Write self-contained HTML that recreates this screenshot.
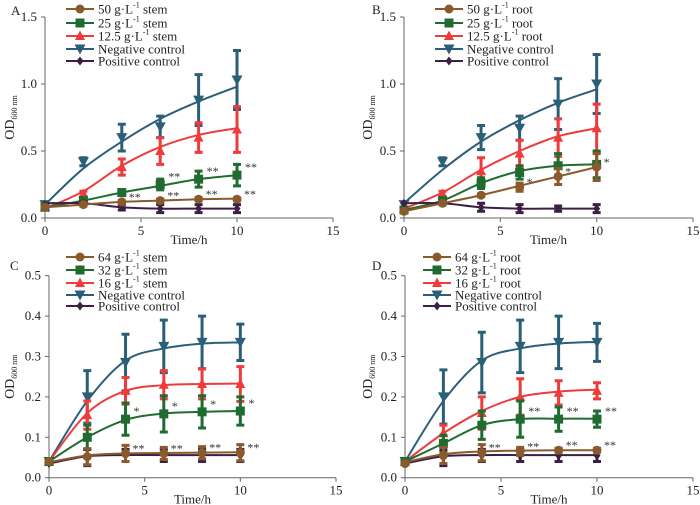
<!DOCTYPE html>
<html><head><meta charset="utf-8">
<style>
body{margin:0;background:#fff;}
svg{display:block;font-family:"Liberation Serif",serif;}
</style></head>
<body>
<svg id="chart" width="700" height="505" viewBox="0 0 700 505"></svg>
<script>
const timeH=[0,2,4,6,8,10];
const xTicks=[0,5,10,15];
const yTicksAB=[0,0.5,1.0,1.5];
const yTicksCD=[0,0.1,0.2,0.3,0.4,0.5];
// Panel A
const aNeg=[0.1,0.42,0.6,0.68,0.88,1.03], aNegErr=[0,0.03,0.1,0.08,0.19,0.22], aNegFit=[0.1,0.37,0.57,0.74,0.87,0.98];
const aRed=[0.08,0.18,0.38,0.5,0.6,0.66], aRedErr=[0,0.02,0.06,0.1,0.11,0.17], aRedFit=[0.07,0.2,0.39,0.53,0.62,0.67];
const aGrn=[0.08,0.13,0.19,0.25,0.29,0.32], aGrnErr=[0,0.01,0.02,0.04,0.06,0.08], aGrnFit=[0.08,0.13,0.19,0.24,0.29,0.32];
const aBrn=[0.08,0.1,0.12,0.13,0.14,0.14], aBrnErr=[0,0.01,0.01,0.01,0.01,0.01], aBrnFit=[0.08,0.1,0.12,0.13,0.14,0.145];
const aPos=[0.1,0.11,0.08,0.07,0.07,0.07], aPosErr=[0,0.01,0.02,0.03,0.03,0.03], aPosFit=[0.11,0.11,0.08,0.07,0.07,0.07];
// Panel B
const bNeg=[0.1,0.42,0.6,0.67,0.85,1.0], bNegErr=[0,0.03,0.09,0.09,0.19,0.22], bNegFit=[0.11,0.36,0.57,0.73,0.86,0.96];
const bRed=[0.07,0.18,0.35,0.48,0.6,0.67], bRedErr=[0,0.02,0.1,0.1,0.14,0.18], bRedFit=[0.07,0.19,0.36,0.5,0.61,0.67];
const bGrn=[0.06,0.13,0.26,0.34,0.39,0.4], bGrnErr=[0,0.01,0.04,0.05,0.09,0.1], bGrnFit=[0.06,0.13,0.26,0.35,0.39,0.4];
const bBrn=[0.05,0.11,0.17,0.23,0.31,0.38], bBrnErr=[0,0.01,0.01,0.03,0.06,0.1], bBrnFit=[0.05,0.11,0.17,0.24,0.31,0.38];
const bPos=[0.11,0.11,0.08,0.07,0.07,0.07], bPosErr=[0,0.01,0.03,0.03,0.02,0.03], bPosFit=[0.11,0.11,0.08,0.07,0.07,0.07];
// Panel C
const cNeg=[0.04,0.2,0.285,0.325,0.335,0.335], cNegErr=[0,0.065,0.07,0.065,0.065,0.045], cNegFit=[0.04,0.19,0.29,0.32,0.332,0.335];
const cRed=[0.04,0.155,0.215,0.23,0.232,0.232], cRedErr=[0,0.035,0.033,0.035,0.037,0.043], cRedFit=[0.04,0.16,0.215,0.229,0.232,0.233];
const cGrn=[0.04,0.1,0.145,0.158,0.163,0.165], cGrnErr=[0,0.03,0.04,0.045,0.04,0.035], cGrnFit=[0.04,0.1,0.143,0.159,0.163,0.165];
const cBrn=[0.04,0.052,0.06,0.06,0.062,0.062], cBrnErr=[0,0.02,0.02,0.015,0.015,0.02], cBrnFit=[0.038,0.055,0.06,0.061,0.062,0.063];
const cPos=[0.035,0.05,0.055,0.055,0.055,0.055], cPosErr=[0,0.02,0.015,0.015,0.015,0.015], cPosFit=[0.035,0.053,0.056,0.056,0.056,0.056];
// Panel D
const dNeg=[0.04,0.2,0.285,0.325,0.335,0.335], dNegErr=[0,0.067,0.075,0.065,0.065,0.047], dNegFit=[0.04,0.19,0.29,0.32,0.332,0.336];
const dRed=[0.04,0.11,0.16,0.2,0.21,0.215], dRedErr=[0,0.02,0.04,0.045,0.03,0.02], dRedFit=[0.04,0.11,0.165,0.2,0.213,0.218];
const dGrn=[0.04,0.085,0.13,0.145,0.145,0.145], dGrnErr=[0,0.02,0.035,0.045,0.03,0.02], dGrnFit=[0.04,0.085,0.13,0.145,0.146,0.146];
const dBrn=[0.035,0.055,0.062,0.065,0.068,0.068], dBrnErr=[0,0.02,0.02,0.01,0.005,0.005], dBrnFit=[0.038,0.058,0.065,0.067,0.068,0.068];
const dPos=[0.035,0.05,0.055,0.055,0.055,0.055], dPosErr=[0,0.02,0.015,0.015,0.015,0.015], dPosFit=[0.035,0.053,0.056,0.056,0.056,0.056];

const NS="http://www.w3.org/2000/svg";
const svg=document.getElementById('chart');
const COL={neg:'#2b5f78',red:'#ee3b3b',grn:'#1f6b30',brn:'#8a5a2c',pos:'#3c1f45'};
function mk(tag,attrs,parent){const e=document.createElementNS(NS,tag);for(const k in attrs)e.setAttribute(k,attrs[k]);(parent||svg).appendChild(e);return e;}
function marker(g,type,x,y,c){
  let e;
  if(type==='circle')e=mk('circle',{cx:x,cy:y,r:4.5,fill:c},g);
  else if(type==='square')e=mk('rect',{x:x-4.5,y:y-4.5,width:9,height:9,fill:c},g);
  else if(type==='up')e=mk('polygon',{points:`${x},${y-5.5} ${x-5},${y+4} ${x+5},${y+4}`,fill:c},g);
  else if(type==='down')e=mk('polygon',{points:`${x-5.5},${y-4.5} ${x+5.5},${y-4.5} ${x},${y+5.5}`,fill:c},g);
  else e=mk('polygon',{points:`${x},${y-4.5} ${x+3.5},${y} ${x},${y+4.5} ${x-3.5},${y}`,fill:c},g);
  return e;
}
function smooth(pts){
  let d=`M${pts[0][0]},${pts[0][1]}`;
  for(let i=0;i<pts.length-1;i++){
    const p0=pts[i-1]||pts[i],p1=pts[i],p2=pts[i+1],p3=pts[i+2]||p2;
    const c1=[p1[0]+(p2[0]-p0[0])/6,p1[1]+(p2[1]-p0[1])/6];
    const c2=[p2[0]-(p3[0]-p1[0])/6,p2[1]-(p3[1]-p1[1])/6];
    d+=` C${c1[0]},${c1[1]} ${c2[0]},${c2[1]} ${p2[0]},${p2[1]}`;
  }
  return d;
}
function panel(p){
  const g=mk('g',{});
  
  
  const X=v=>p.x0+(v-0)/15*(p.x15-p.x0);
  const Y=v=>p.y0-(v/p.ymax)*(p.y0-p.ytop);
  const ax=mk('path',{d:`M${X(0)},${p.ytop} V${p.y0} H${X(15)}`,stroke:'#666',fill:'none','stroke-width':1},g);
  
  
  xTicks.forEach(t=>{
    mk('line',{x1:X(t),x2:X(t),y1:p.y0,y2:p.y0+4,stroke:'#666'},g);
    const tx=mk('text',{x:X(t),y:p.y0+17,'text-anchor':'middle','font-size':13,fill:'#222'},g);
    tx.textContent=t;
    
    
  });
  p.yt.forEach(t=>{
    mk('line',{x1:X(0)-4,x2:X(0),y1:Y(t),y2:Y(t),stroke:'#666'},g);
    const tx=mk('text',{x:X(0)-8,y:Y(t)+4,'text-anchor':'end','font-size':13,fill:'#222'},g);
    tx.textContent=t.toFixed(1);
    
    
  });
  const xl=mk('text',{x:X(7.5),y:p.y0+26,'text-anchor':'middle','font-size':13,fill:'#222'},g);
  xl.textContent='Time/h';
  
  
  const yl=mk('text',{transform:`translate(${p.ylx},${(p.y0+p.ytop)/2}) rotate(-90)`,'text-anchor':'middle','font-size':14,fill:'#222'},g);
  yl.innerHTML='OD<tspan font-size="8" dy="3">600 nm</tspan>';
  
  
  const pl=mk('text',{x:p.lx,y:p.ly,'font-size':13,fill:'#222'},g);
  pl.textContent=p.id;
  
  
  p.series.forEach(s=>{
    const sg=mk('g',{},g);
    
    
    const c=COL[s.key];
    const ln=mk('path',{d:smooth(timeH.map((t,i)=>[X(t),Y(s.fit[i])])),stroke:c,'stroke-width':2,fill:'none'},sg);
    
    
    timeH.forEach((t,i)=>{
      const x=X(t),e=s.err[i];
      if(e>0){
        const eb=mk('path',{d:`M${x},${Y(s.val[i]+e)} V${Y(s.val[i]-e)} M${x-4},${Y(s.val[i]+e)} H${x+4} M${x-4},${Y(s.val[i]-e)} H${x+4}`,stroke:c,'stroke-width':3,fill:'none'},sg);
        
        
      }
      const m=marker(sg,s.m,x,Y(s.val[i]),c);
      
      
      if(s.stars&&s.stars[i]){
        const st=mk('text',{x:x+(s.starDx||7),y:Y(s.val[i])+(s.starDy||2),'font-size':12,fill:'#333'},sg);
        st.textContent=s.stars[i];
        
        
      }
    });
  });
  const lg=mk('g',{},g);
  
  
  p.leg.forEach((l,i)=>{
    const y=p.legY[i],c=COL[l.key];
    const le=mk('g',{},lg);
    
    
    mk('line',{x1:p.legX,x2:p.legX+28,y1:y,y2:y,stroke:c,'stroke-width':2},le);
    marker(le,l.m,p.legX+14,y,c);
    const tx=mk('text',{x:p.legX+32,y:y+4.5,'font-size':13,fill:'#222'},le);
    tx.innerHTML=l.t;
  });
}
function ser(neg,negE,negF,red,redE,redF,grn,grnE,grnF,brn,brnE,brnF,pos,posE,posF,grnStars,brnStars,grnDx){
  return [
    {key:'neg',m:'down',val:neg,err:negE,fit:negF},
    {key:'red',m:'up',val:red,err:redE,fit:redF},
    {key:'grn',m:'square',val:grn,err:grnE,fit:grnF,stars:grnStars,starDx:grnDx||8,starDy:-4},
    {key:'pos',m:'diamond',val:pos,err:posE,fit:posF},
    {key:'brn',m:'circle',val:brn,err:brnE,fit:brnF,stars:brnStars,starDx:7,starDy:-1}
  ];
}
function leg(a,b,c,part){
  const sup='<tspan font-size="8" dy="-6">-1</tspan><tspan dy="6"> '+part+'</tspan>';
  return [
    {key:'brn',m:'circle',t:a+' g·L'+sup},
    {key:'grn',m:'square',t:b+' g·L'+sup},
    {key:'red',m:'up',t:c+' g·L'+sup},
    {key:'neg',m:'down',t:'Negative control'},
    {key:'pos',m:'diamond',t:'Positive control'}
  ];
}
const legYTop=[9,23,36,49,61], legYBot=[257,270,283,295,306];
panel({id:'A',x0:45,x15:333,y0:218,ytop:17,ymax:1.5,yt:yTicksAB,ylx:14,lx:11,ly:15,legX:66,legY:legYTop,leg:leg('50','25','12.5','stem'),
  series:ser(aNeg,aNegErr,aNegFit,aRed,aRedErr,aRedFit,aGrn,aGrnErr,aGrnFit,aBrn,aBrnErr,aBrnFit,aPos,aPosErr,aPosFit,
  ['','','','**','**','**'],['','','**','**','**','**'])});
panel({id:'B',x0:404,x15:693,y0:218,ytop:17,ymax:1.5,yt:yTicksAB,ylx:372,lx:372,ly:14,legX:435,legY:legYTop,leg:leg('50','25','12.5','root'),
  series:ser(bNeg,bNegErr,bNegFit,bRed,bRedErr,bRedFit,bGrn,bGrnErr,bGrnFit,bBrn,bBrnErr,bBrnFit,bPos,bPosErr,bPosFit,
  null,['','','','*','*','*'])});
panel({id:'C',x0:49,x15:336,y0:477.7,ytop:275.7,ymax:0.5,yt:yTicksCD,ylx:14,lx:10,ly:270,legX:66,legY:legYBot,leg:leg('64','32','16','stem'),
  series:ser(cNeg,cNegErr,cNegFit,cRed,cRedErr,cRedFit,cGrn,cGrnErr,cGrnFit,cBrn,cBrnErr,cBrnFit,cPos,cPosErr,cPosFit,
  ['','','*','*','*','*'],['','','**','**','**','**'])});
panel({id:'D',x0:405,x15:693,y0:477.7,ytop:275.7,ymax:0.5,yt:yTicksCD,ylx:372,lx:372,ly:270,legX:423,legY:legYBot,leg:leg('64','32','16','root'),
  series:ser(dNeg,dNegErr,dNegFit,dRed,dRedErr,dRedFit,dGrn,dGrnErr,dGrnFit,dBrn,dBrnErr,dBrnFit,dPos,dPosErr,dPosFit,
  ['','','','**','**','**'],['','','**','**','**','**'])});
</script>
</body></html>
